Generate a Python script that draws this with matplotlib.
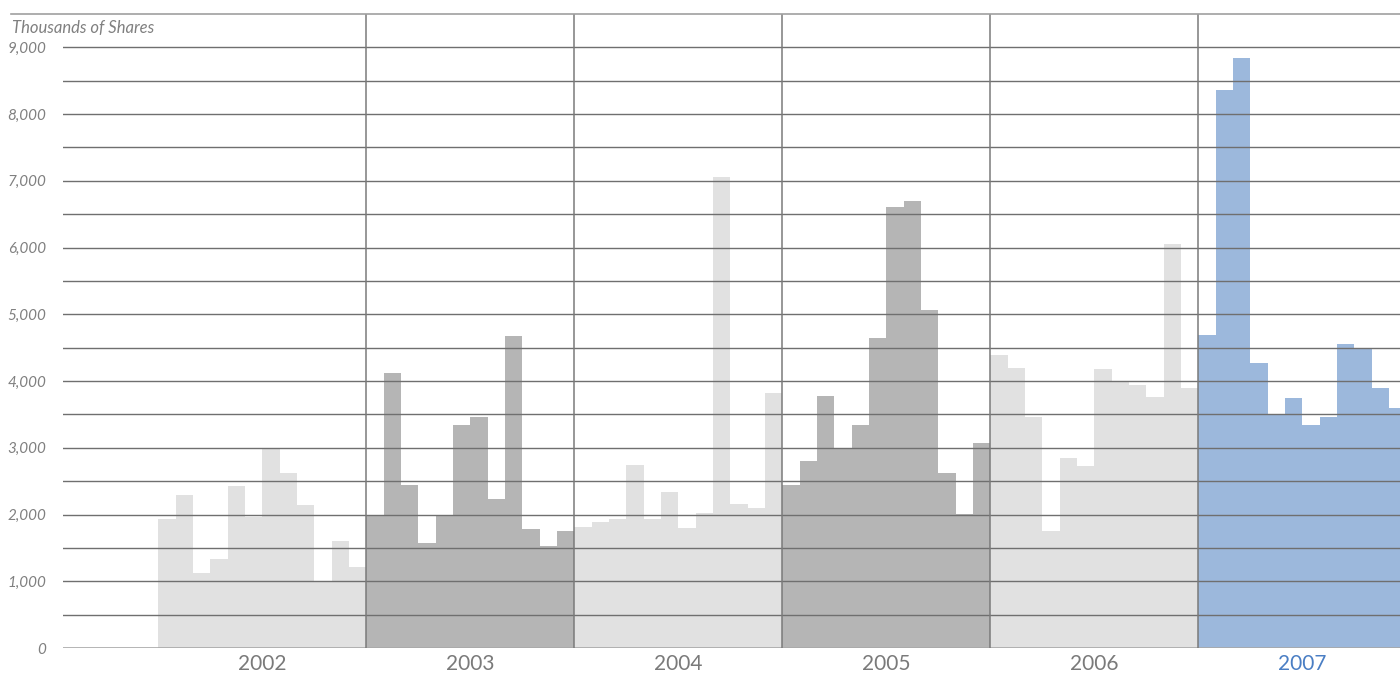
import numpy as np
import matplotlib.pyplot as plt
from matplotlib.transforms import blended_transform_factory

# Monthly trading volume, thousands of shares
years = ['2002', '2003', '2004', '2005', '2006', '2007']
vol_2002 = [1940, 2300, 1130, 1340, 2420, 1960, 2980, 2615, 2150, 1000, 1610, 1220]
vol_2003 = [2000, 4115, 2435, 1580, 1990, 3335, 3455, 2240, 4670, 1790, 1535, 1760]
vol_2004 = [1820, 1895, 1940, 2735, 1940, 2345, 1805, 2030, 7055, 2165, 2105, 3815]
vol_2005 = [2435, 2795, 3770, 3000, 3335, 4640, 6605, 6695, 5060, 2615, 2010, 3065]
vol_2006 = [4385, 4190, 3455, 1760, 2840, 2720, 4175, 3990, 3935, 3755, 6050, 3890]
vol_2007 = [4685, 8360, 8840, 4265, 3500, 3740, 3335, 3455, 4550, 4475, 3890, 3590]
ytick_vals = [0, 1000, 2000, 3000, 4000, 5000, 6000, 7000, 8000, 9000]

all_vol = [vol_2002, vol_2003, vol_2004, vol_2005, vol_2006, vol_2007]
bar_colors = ['#e1e1e1', '#b5b5b5', '#e1e1e1', '#b5b5b5', '#e1e1e1', '#9cb8dc']
label_colors = ['#7a7a7a'] * 5 + ['#4a7ec4']

plt.rcParams['font.family'] = ['Lato', 'DejaVu Sans']

fig = plt.figure(figsize=(14, 6.75), dpi=100)
ax = fig.add_axes([63 / 1400, 1 - 648 / 675, 1 - 63 / 1400, (648 - 14) / 675])

for k, vals in enumerate(all_vol):
    x = np.arange(len(vals)) + 12 * k
    ax.bar(x, vals, width=1.0, align='edge', color=bar_colors[k],
           linewidth=0, zorder=1)

# horizontal grid every 500
for v in np.arange(500, 9001, 500):
    ax.axhline(v, color='#6f6f6f', lw=1.0, zorder=2)
ax.axhline(0, color='#a8a8a8', lw=1.2, zorder=2)

# year separators
for k in range(1, 6):
    ax.axvline(12 * k, color='#7a7a7a', lw=1.1, zorder=3)

ax.set_xlim(-5.5, 71.63)
ax.set_ylim(0, 9500)

# top rule reaching over the label column
ax.plot([(11 - 63) / 1337, 1], [1, 1], transform=ax.transAxes, color='#a0a0a0',
        lw=1.2, clip_on=False, zorder=4)

for s in ax.spines.values():
    s.set_visible(False)
ax.set_xticks([])
ax.set_yticks(ytick_vals)
ax.set_yticklabels([f'{v:,}' for v in ytick_vals], fontstyle='italic',
                   color='#808080', fontsize=11)
ax.tick_params(axis='y', length=0, pad=12)

trans = blended_transform_factory(ax.transData, fig.transFigure)
for k, yr in enumerate(years):
    ax.text(12 * k + 6, 1 - 664 / 675, yr, transform=trans, ha='center',
            va='center', fontsize=15, color=label_colors[k])

fig.text(12 / 1400, 1 - 28 / 675, 'Thousands of Shares', ha='left', va='center',
         fontstyle='italic', color='#808080', fontsize=12)

fig.savefig('out.png', dpi=100)
